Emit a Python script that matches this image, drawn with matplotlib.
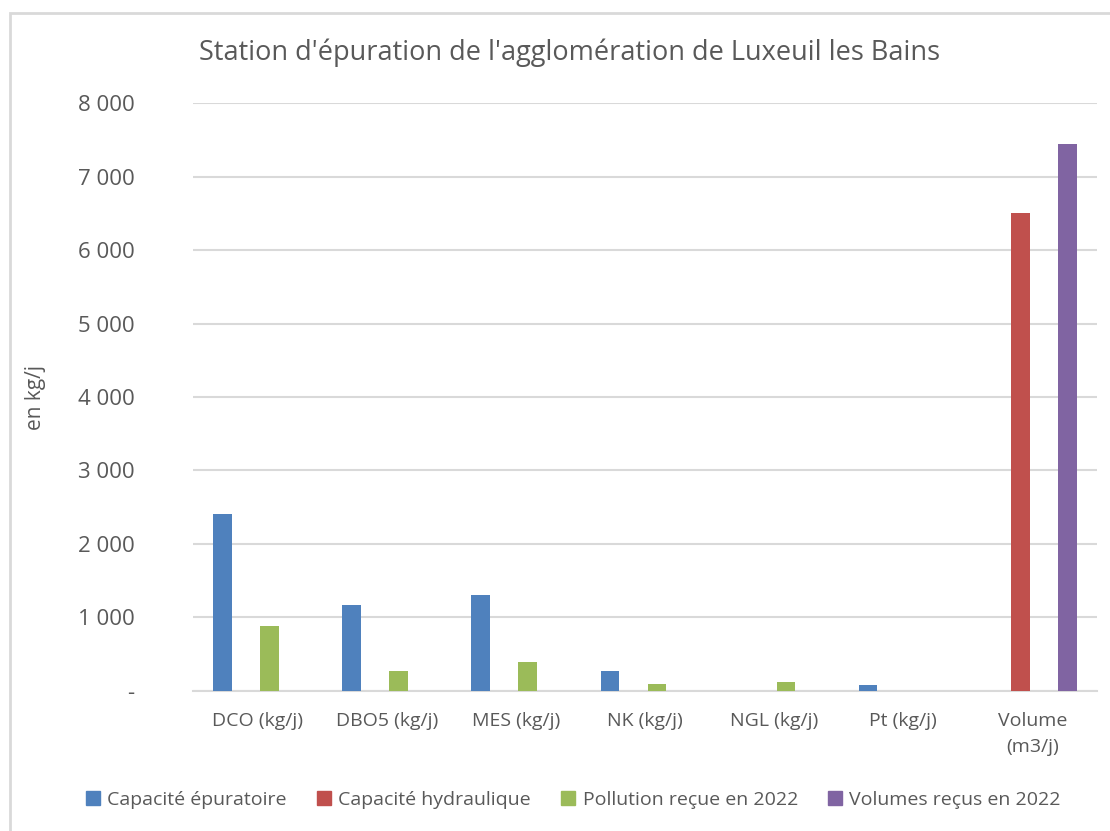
import matplotlib.pyplot as plt
import numpy as np
from matplotlib.lines import Line2D
from matplotlib.patches import Rectangle

plt.rcParams['font.family'] = ['Open Sans', 'DejaVu Sans']

# données
categories = ["DCO (kg/j)", "DBO5 (kg/j)", "MES (kg/j)", "NK (kg/j)",
              "NGL (kg/j)", "Pt (kg/j)", "Volume\n(m3/j)"]
capacite_epuratoire = [2410, 1165, 1305, 262, 0, 75, 0]
capacite_hydraulique = [0, 0, 0, 0, 0, 0, 6500]
pollution_2022 = [875, 262, 395, 93, 112, 0, 0]
volumes_2022 = [0, 0, 0, 0, 0, 0, 7450]

series = [
    ("Capacité épuratoire", capacite_epuratoire, "#4F81BD"),
    ("Capacité hydraulique", capacite_hydraulique, "#C0504D"),
    ("Pollution reçue en 2022", pollution_2022, "#9BBB59"),
    ("Volumes reçus en 2022", volumes_2022, "#8064A2"),
]

txt = "#595959"

fig = plt.figure(figsize=(11.1, 8.31), dpi=100)
ax = fig.add_axes([193 / 1110, 1 - 690.7 / 831, 904 / 1110, 587.4 / 831])

x = np.arange(len(categories))
slot = 0.182
width = 0.143
for i, (name, vals, col) in enumerate(series):
    ax.bar(x + (i - 1.5) * slot, vals, width, color=col, label=name, zorder=3)

ax.set_xlim(-0.5, len(categories) - 0.5)
ax.set_ylim(0, 8000)
ax.set_yticks(np.arange(0, 8001, 1000))
ax.yaxis.set_major_formatter(
    plt.FuncFormatter(lambda v, p: "-" if v == 0 else f"{int(v):,}".replace(",", " ")))
ax.grid(axis='y', color='#D9D9D9', linewidth=1.5, zorder=0)
ax.set_xticks(x)
ax.set_xticklabels(categories, fontsize=14, color=txt, linespacing=1.6)
ax.tick_params(axis='x', length=0, pad=15)
ax.tick_params(axis='y', length=0, pad=42, labelsize=16, labelcolor=txt)
for s in ax.spines.values():
    s.set_visible(False)
ax.spines['bottom'].set_visible(True)
ax.spines['bottom'].set_color('#D9D9D9')
ax.spines['bottom'].set_linewidth(1.5)

fig.text(570 / 1110, 1 - 53 / 831, "Station d'épuration de l'agglomération de Luxeuil les Bains",
         ha='center', va='center', fontsize=19.5, color=txt)
fig.text(35 / 1110, 1 - 397 / 831, "en kg/j", rotation=90, ha='center', va='center',
         fontsize=15, color=txt)

handles = [Line2D([], [], marker='s', linestyle='none', markersize=10, color=c,
                  label=n) for n, _, c in series]
fig.legend(handles=handles, loc='center', bbox_to_anchor=(573 / 1110, 1 - 800 / 831),
           ncol=4, frameon=False, fontsize=14, labelcolor=txt, handletextpad=0.35,
           columnspacing=1.5, handlelength=0.8)

# cadre du graphique
fig.patches.append(Rectangle((10 / 1110, -0.1), 1.2, 1 - 13 / 831 + 0.1,
                             transform=fig.transFigure, fill=False,
                             edgecolor='#D9D9D9', linewidth=2))

fig.savefig("out.png", dpi=100)
